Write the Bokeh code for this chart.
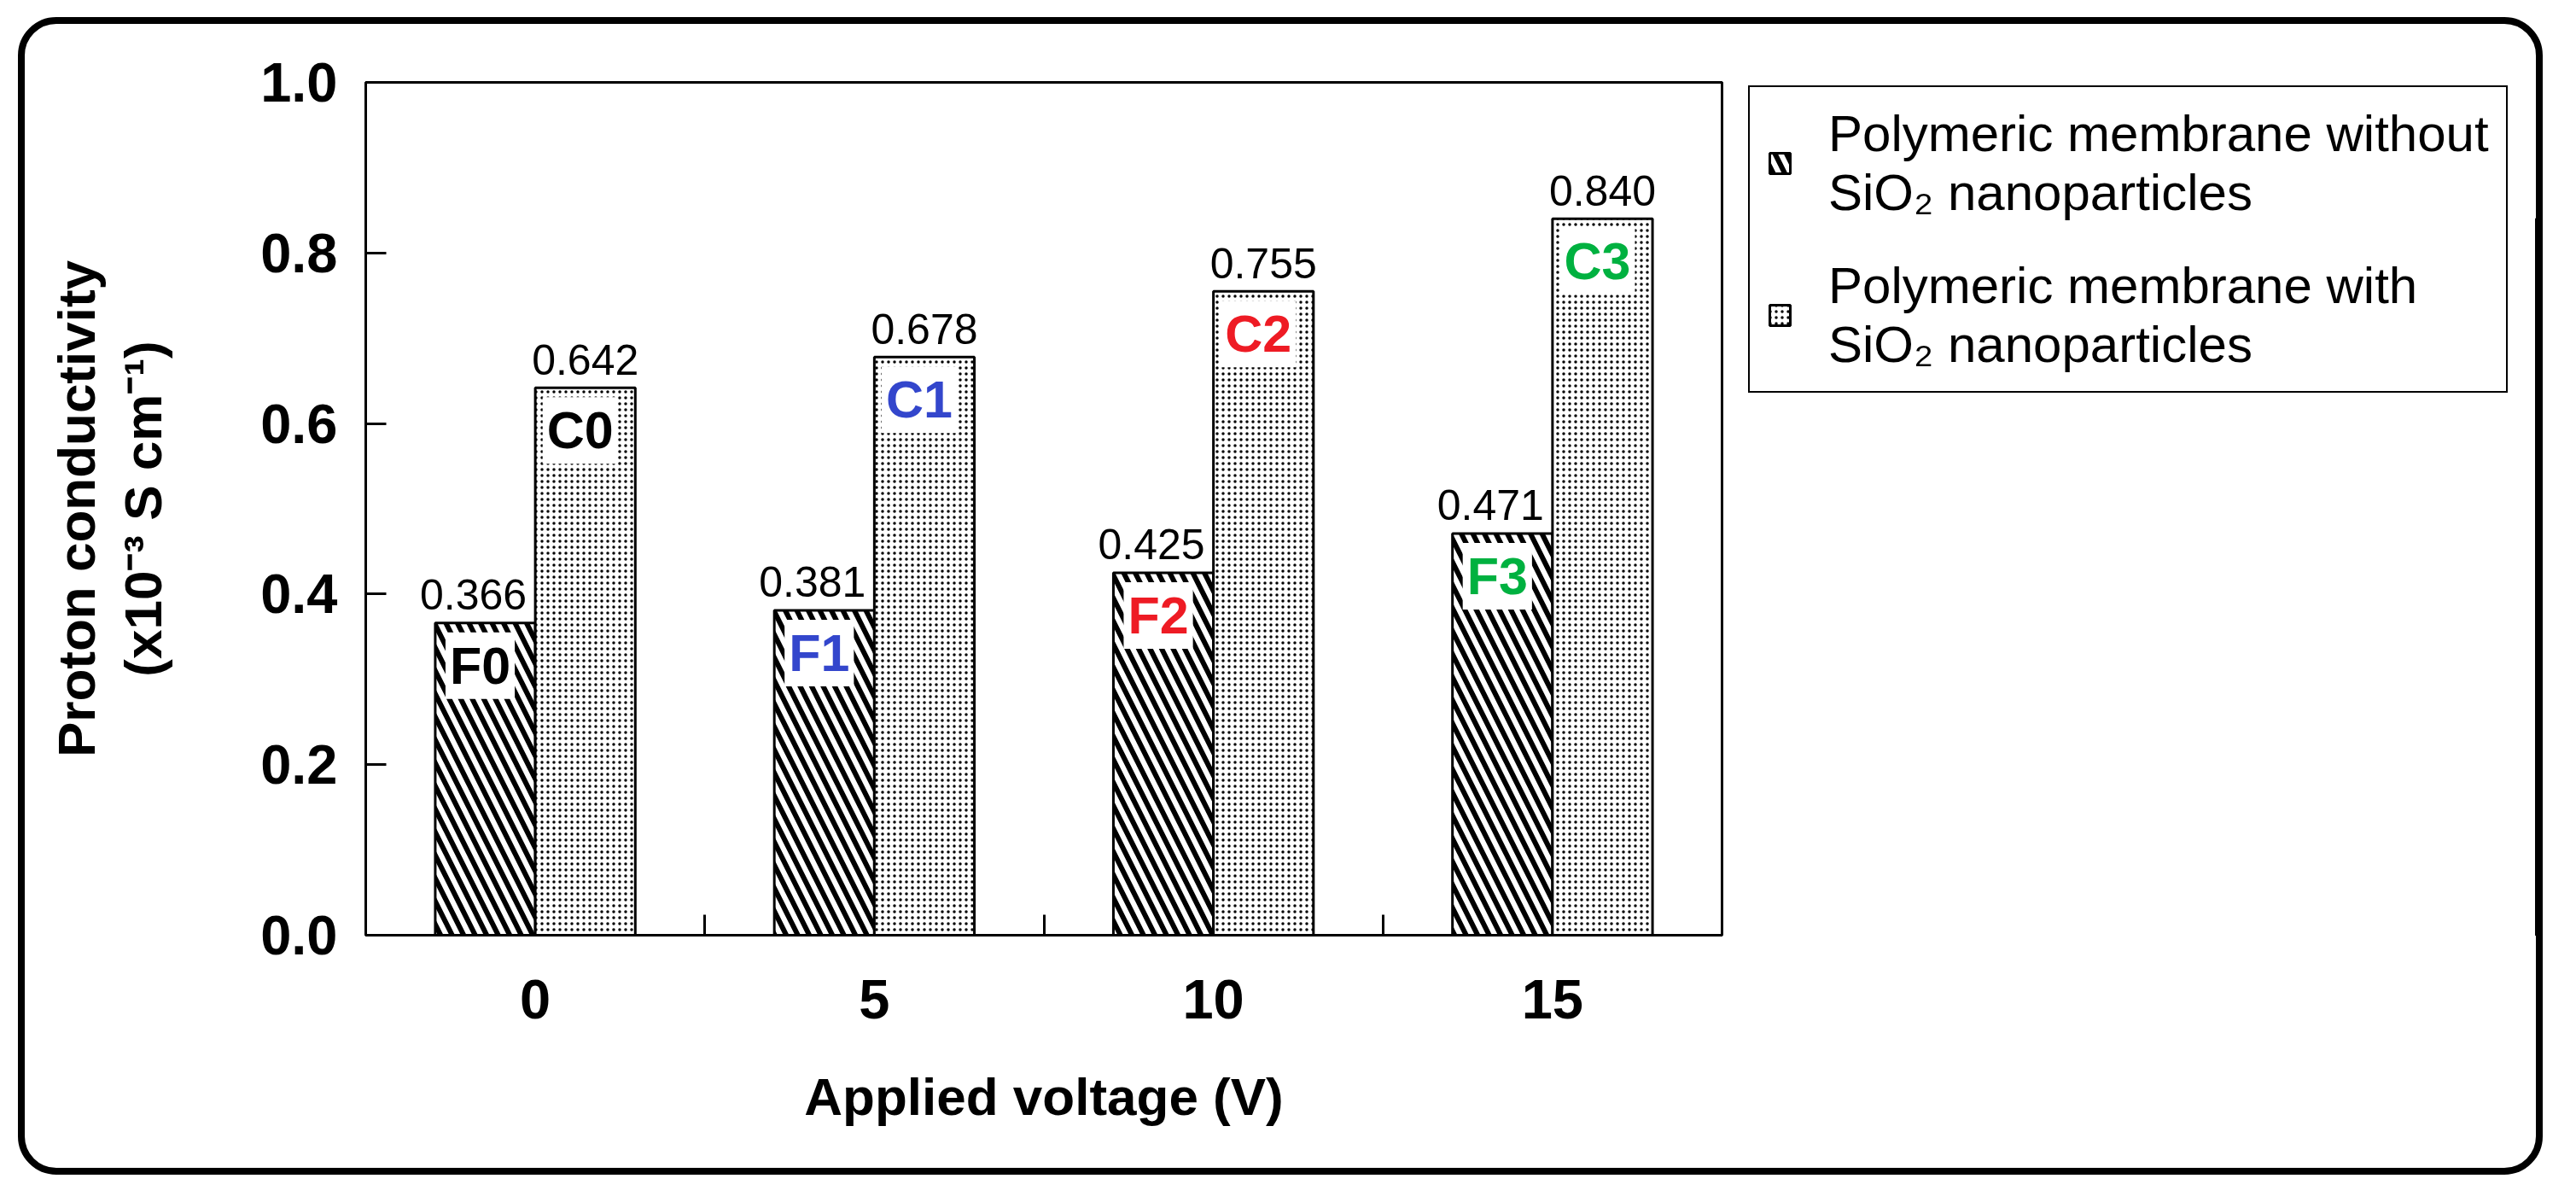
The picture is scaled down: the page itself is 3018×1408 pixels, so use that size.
from bokeh.plotting import figure
from bokeh.layouts import row
from bokeh.models import (ColumnDataSource, Range1d, FixedTicker, PrintfTickFormatter,
                          Legend, LegendItem)
from bokeh.transform import dodge
from bokeh.core.properties import value
from bokeh.embed import file_html
from bokeh.resources import INLINE

# data
voltages = ["0", "5", "10", "15"]
without_sio2 = [0.366, 0.381, 0.425, 0.471]
with_sio2 = [0.642, 0.678, 0.755, 0.840]
without_tags = ["F0", "F1", "F2", "F3"]
with_tags = ["C0", "C1", "C2", "C3"]
tag_colors = ["black", "#3346cc", "#ee1b24", "#00b140"]
y_ticks = [0.0, 0.2, 0.4, 0.6, 0.8, 1.0]
legend_labels = ["Polymeric membrane without\nSiO\u2082 nanoparticles",
                 "Polymeric membrane with\nSiO\u2082 nanoparticles"]

FONT = value("Liberation Sans")
bar_w = 0.295
H = 1340

without_style = dict(fill_color="white", line_color="black", line_width=3,
                     hatch_pattern="\\", hatch_color="black", hatch_scale=27, hatch_weight=6)
with_style = dict(fill_color="white", line_color="black", line_width=3,
                  hatch_pattern=".", hatch_color="black", hatch_scale=7, hatch_weight=2)

xs = [i + 0.5 for i in range(len(voltages))]
src = ColumnDataSource(data=dict(
    x=xs, f=without_sio2, c=with_sio2,
    f_txt=["%.3f" % v for v in without_sio2],
    c_txt=["%.3f" % v for v in with_sio2],
    f_tag=without_tags, c_tag=with_tags, tag_color=tag_colors))

p = figure(width=2008, height=H,
           x_range=Range1d(0, len(voltages)), y_range=Range1d(0, 1.0),
           output_backend="svg", toolbar_location=None,
           min_border_left=399, min_border_right=20,
           min_border_top=68, min_border_bottom=273)
p.border_fill_color = None

p.xgrid.visible = False
p.ygrid.visible = False
p.outline_line_color = "black"
p.outline_line_width = 3

xf = dodge("x", -bar_w / 2, range=p.x_range)
xc = dodge("x", bar_w / 2, range=p.x_range)

p.vbar(x=xf, top="f", width=bar_w, source=src, **without_style)
p.vbar(x=xc, top="c", width=bar_w, source=src, **with_style)

# sample tags inside bars
for xx, col in ((xf, "f"), (xc, "c")):
    p.text(x=xx, y=col, text=col + "_tag", source=src, text_color="tag_color",
           text_font=FONT, text_font_style="bold", text_font_size="61px",
           text_align="center", text_baseline="top", y_offset=11, x_offset=-6,
           background_fill_color="white", padding=5)

# value labels above bars
p.text(x=xf, y="f", text="f_txt", source=src, text_color="black",
       text_font=FONT, text_font_size="50px", text_align="center",
       text_baseline="alphabetic", y_offset=-33, x_offset=-14)
p.text(x=xc, y="c", text="c_txt", source=src, text_color="black",
       text_font=FONT, text_font_size="50px", text_align="center",
       text_baseline="alphabetic", y_offset=-33)

# x axis: labels at group centres, ticks between groups
p.xaxis.ticker = FixedTicker(ticks=xs, minor_ticks=list(range(1, len(voltages))))
p.xaxis.major_label_overrides = {x: v for x, v in zip(xs, voltages)}
p.xaxis.major_tick_in = 0
p.xaxis.major_tick_out = 0
p.xaxis.minor_tick_in = 24
p.xaxis.minor_tick_out = 0
p.xaxis.minor_tick_line_width = 3
p.xaxis.axis_label = "Applied voltage (V)"
p.xaxis.major_label_standoff = 52
p.xaxis.axis_label_standoff = 54

p.yaxis.ticker = FixedTicker(ticks=y_ticks, minor_ticks=[])
p.yaxis.formatter = PrintfTickFormatter(format="%.1f")
p.yaxis.major_tick_in = 24
p.yaxis.major_tick_out = 0
p.yaxis.minor_tick_line_color = None
p.yaxis.major_tick_line_width = 3
p.yaxis.axis_label = "Proton conductivity\n(x10\u207b\u00b3 S cm\u207b\u00b9)"
p.yaxis.major_label_standoff = 33
p.yaxis.axis_label_standoff = 100
p.yaxis.axis_label_text_line_height = 1.13

for ax in (p.xaxis, p.yaxis):
    ax.axis_line_width = 3
    ax.axis_line_color = "black"
    ax.major_tick_line_color = "black"
    ax.major_label_text_font = "Liberation Sans"
    ax.major_label_text_font_style = "bold"
    ax.major_label_text_font_size = "65px"
    ax.major_label_text_color = "black"
    ax.axis_label_text_font = "Liberation Sans"
    ax.axis_label_text_font_style = "bold"
    ax.axis_label_text_font_size = "62px"
    ax.axis_label_text_color = "black"

# legend lives in its own borderless panel to the right of the plot;
# its swatch renderers use the same data but sit outside that panel's ranges
pl = figure(width=934, height=H, x_range=Range1d(-20, -19), y_range=Range1d(0, 1),
            output_backend="svg", toolbar_location=None, min_border=0,
            x_axis_location=None, y_axis_location=None)
pl.grid.visible = False
pl.outline_line_color = None
pl.border_fill_color = None
pl.background_fill_color = None
sw_f = pl.vbar(x="x", top="f", width=bar_w, source=src, **without_style)
sw_c = pl.vbar(x="x", top="c", width=bar_w, source=src, **with_style)

legend = Legend(items=[LegendItem(label=legend_labels[0], renderers=[sw_f]),
                       LegendItem(label=legend_labels[1], renderers=[sw_c])],
                location=(11, 635), margin=0)
legend.label_text_font = "Liberation Sans"
legend.label_text_font_size = "60px"
legend.label_text_line_height = 1.12
legend.label_text_color = "black"
legend.glyph_width = 30
legend.glyph_height = 30
legend.label_standoff = 42
legend.padding = 20
legend.spacing = 40
legend.border_line_color = "black"
legend.border_line_alpha = 1
legend.border_line_width = 2
legend.background_fill_alpha = 1
pl.add_layout(legend)

# rounded outer frame of the whole chart
layout = row(p, pl, styles={"border": "8px solid black", "border-radius": "45px",
                            "margin-left": "21px", "margin-top": "20px"})

open("out.html", "w").write(file_html(layout, INLINE))
